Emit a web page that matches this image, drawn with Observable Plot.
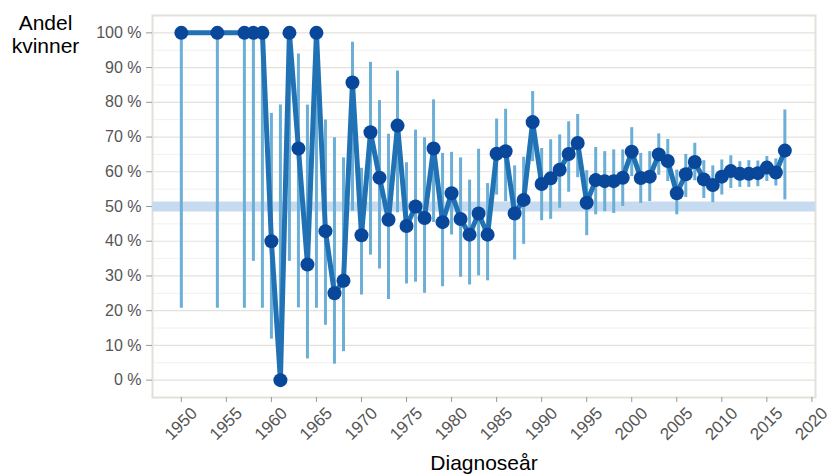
<!DOCTYPE html>
<html><head><meta charset="utf-8">
<script src="https://cdn.jsdelivr.net/npm/d3@7"></script>
<script src="https://cdn.jsdelivr.net/npm/@observablehq/plot@0.6"></script>
<style>body{margin:0;background:#fff} svg{font-family:"Liberation Sans",Arial,sans-serif}</style>
</head><body><div id="chart"></div>
<script>
const years = [1950,1954,1957,1958,1959,1960,1961,1962,1963,1964,1965,1966,1967,1968,1969,1970,1971,1972,1973,1974,1975,1976,1977,1978,1979,1980,1981,1982,1983,1984,1985,1986,1987,1988,1989,1990,1991,1992,1993,1994,1995,1996,1997,1998,1999,2000,2001,2002,2003,2004,2005,2006,2007,2008,2009,2010,2011,2012,2013,2014,2015,2016,2017];
const share = [100,100,100,100,100,40,0,100,66.7,33.3,100,42.9,25,28.6,85.7,41.7,71.4,58.3,46.2,73.3,44.4,50,46.7,66.7,45.5,53.8,46.4,41.9,48,41.9,65.2,65.9,48,51.9,74.3,56.5,58.1,60.6,65.1,68.3,51.1,57.6,57.3,57.3,58.3,65.8,58.2,58.6,65,63.1,53.8,59.3,62.8,57.8,56.2,58.6,60.2,59.4,59.4,59.6,61.2,59.8,66.1];
const lower = [20.7,20.7,20.7,34.2,20.7,11.8,0,34.2,20.8,6.1,20.7,15.8,4.6,8.2,48.7,24.5,36,32,23.2,48.2,27.7,28.2,25,45.4,26.9,41.8,29.6,27.4,30,28.6,53.3,51.4,34.6,39.1,62.9,45.9,46.3,49.5,54.1,58.3,41.6,47.6,48.5,48,50,58.6,50.9,51.4,59,57.2,47.6,52.6,57.4,52.3,51.1,53.3,55.2,55.5,55.5,55.7,57.2,55.9,51.9];
const upper = [100,100,100,100,100,76.8,79.2,100,93.9,79.2,100,74.9,69.8,64,97.3,61,91.5,80.5,70.8,89,62.6,72,69.8,80.7,65.3,65.6,64,57.6,66.5,56.6,75.2,78,61.7,64.2,83.1,66.7,69.2,70.6,74.4,76.5,60.3,67,65.8,66.3,66.3,72.7,65.3,65.8,70.9,69.3,60.5,65,68.2,63.2,61.7,63.4,64.6,62.9,63.2,63.1,64.4,63.7,77.8];
const yTicks = [0,10,20,30,40,50,60,70,80,90,100];
const yMinor = [5,15,25,35,45,55,65,75,85,95];
const xTicks = [1950,1955,1960,1965,1970,1975,1980,1985,1990,1995,2000,2005,2010,2015,2020];
const refLine = [50];

const data = years.map((y,i)=>({year:y, pct:share[i], lo:lower[i], hi:upper[i]}));

const plot = Plot.plot({
  width: 828, height: 474,
  marginLeft: 152, marginRight: 13, marginTop: 15, marginBottom: 77,
  x: {domain: [1946.8, 2020.4]},
  y: {domain: [-5, 105]},
  style: {fontFamily: '"Liberation Sans", Arial, sans-serif', background: "white"},
  marks: [
    Plot.ruleY(yMinor, {stroke: "#f2f0ed", strokeWidth: 1}),
    Plot.ruleY(yTicks, {stroke: "#e4e1dc", strokeWidth: 1.2}),
    Plot.frame({stroke: "#e3e0da", strokeWidth: 2}),
    Plot.ruleY(refLine, {stroke: "#c6dbef", strokeWidth: 10}),
    Plot.ruleX(data, {x: "year", y1: "lo", y2: "hi", stroke: "#6baed6", strokeWidth: 3}),
    Plot.line(data, {x: "year", y: "pct", stroke: "#2171b5", strokeWidth: 5}),
    Plot.dot(data, {x: "year", y: "pct", r: 7, fill: "#08479a"}),
    Plot.axisY(yTicks, {tickFormat: d => d + " %", fontSize: 16, tickSize: 6, tickPadding: 5, stroke: "#999", fill: "#555", label: null}),
    Plot.axisX(xTicks, {tickSize: 5, stroke: "#999", fill: "none", label: null}),
    Plot.axisX(xTicks, {tickFormat: d => String(d), tickRotate: -45, textAnchor: "end", lineAnchor: "middle", dx: 13, dy: 8, fontSize: 17, tickSize: 5, tickPadding: 0, stroke: "none", fill: "#555", label: null}),
    Plot.text(["Diagnoseår"], {frameAnchor: "bottom", dy: 72, lineAnchor: "bottom", fontSize: 21, fill: "#000"}),
    Plot.text(["Andel\nkvinner"], {frameAnchor: "top-left", dx: -107, dy: -2, lineAnchor: "top", textAnchor: "middle", fontSize: 21, lineHeight: 1.1, fill: "#000"})
  ]
});
document.getElementById("chart").appendChild(plot);
</script>
</body></html>
